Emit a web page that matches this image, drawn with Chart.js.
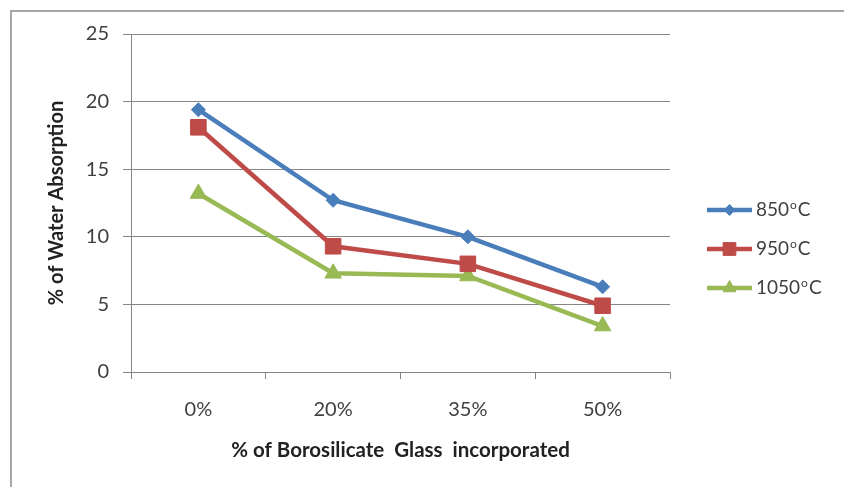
<!DOCTYPE html>
<html>
<head>
<meta charset="utf-8">
<script src="https://cdn.jsdelivr.net/npm/chart.js@4/dist/chart.umd.min.js"></script>
<style>
  html, body { margin: 0; padding: 0; background: #ffffff; }
  #wrap { width: 844px; height: 487px; position: relative; }
</style>
</head>
<body>
<div id="wrap"><canvas id="c" width="844" height="487"></canvas></div>
<script>
// Water absorption (%) by borosilicate glass content, per firing temperature
const categories = ['0%', '20%', '35%', '50%'];
const seriesNames = ['850°C', '950°C', '1050°C'];
const absorption850 = [19.4, 12.7, 10.0, 6.3];
const absorption950 = [18.1, 9.3, 8.0, 4.9];
const absorption1050 = [13.2, 7.3, 7.1, 3.4];
const yTicks = [0, 5, 10, 15, 20, 25];

const FONT = 'Lato, "Open Sans", sans-serif';
const TEXT = '#404040';
const GRID = '#868686';

// Frame around the whole chart (open to the right and bottom)
const framePlugin = {
  id: 'frame',
  beforeDraw(chart) {
    const ctx = chart.ctx;
    ctx.save();
    ctx.fillStyle = '#ffffff';
    ctx.fillRect(0, 0, chart.width, chart.height);
    ctx.strokeStyle = '#a6a6a6';
    ctx.lineWidth = 2;
    ctx.strokeRect(11, 11, chart.width + 20, chart.height + 20);
    ctx.restore();
  }
};

// Legend to the right: line segment with marker, label with raised "o"
const legendMarkerRadius = { rectRot: 5.5, rect: 9, triangle: 7.5 };
const sideLegend = {
  id: 'sideLegend',
  afterDraw(chart) {
    const ctx = chart.ctx;
    const x0 = 707, x1 = 752, rows = [210, 249, 288];
    ctx.save();
    chart.data.datasets.forEach((ds, i) => {
      const y = rows[i];
      ctx.strokeStyle = ds.borderColor;
      ctx.lineWidth = ds.borderWidth;
      ctx.beginPath();
      ctx.moveTo(x0, y);
      ctx.lineTo(x1, y);
      ctx.stroke();
      ctx.fillStyle = ds.pointBackgroundColor;
      ctx.strokeStyle = ds.pointBorderColor;
      ctx.lineWidth = 1;
      Chart.helpers.drawPoint(ctx, {
        pointStyle: ds.pointStyle,
        radius: legendMarkerRadius[ds.pointStyle],
        borderWidth: 1
      }, (x0 + x1) / 2, y);
      const parts = ds.label.split('°');
      ctx.fillStyle = TEXT;
      ctx.textBaseline = 'middle';
      ctx.textAlign = 'left';
      let tx = x1 + 4;
      ctx.font = '19px ' + FONT;
      ctx.fillText(parts[0], tx, y);
      tx += ctx.measureText(parts[0]).width + 1;
      ctx.font = '12px ' + FONT;
      ctx.fillText('o', tx, y - 5);
      tx += ctx.measureText('o').width + 1;
      ctx.font = '19px ' + FONT;
      ctx.fillText(parts[1] || '', tx, y);
    });
    ctx.restore();
  }
};

function series(label, data, color, style, radius) {
  return {
    label: label,
    data: data,
    borderColor: color,
    borderWidth: 4.5,
    pointStyle: style,
    pointRadius: radius,
    pointHoverRadius: radius,
    pointBackgroundColor: color,
    pointBorderColor: color,
    pointBorderWidth: 1,
    tension: 0,
    fill: false
  };
}

new Chart(document.getElementById('c'), {
  type: 'line',
  data: {
    labels: categories,
    datasets: [
      series(seriesNames[0], absorption850, '#4A7EBB', 'rectRot', 7),
      series(seriesNames[1], absorption950, '#BE4B48', 'rect', 11),
      series(seriesNames[2], absorption1050, '#98B954', 'triangle', 9.5)
    ]
  },
  options: {
    responsive: false,
    animation: false,
    layout: { padding: { top: 34, right: 174, bottom: 0, left: 0 } },
    plugins: {
      legend: { display: false },
      tooltip: { enabled: false }
    },
    scales: {
      x: {
        type: 'category',
        offset: true,
        grid: {
          offset: true,
          drawOnChartArea: false,
          drawTicks: true,
          tickLength: 7,
          color: GRID
        },
        border: { display: true, color: GRID, width: 1 },
        ticks: { color: TEXT, font: { family: FONT, size: 20 }, padding: 19, maxRotation: 0 },
        title: {
          display: true,
          text: '% of Borosilicate  Glass  incorporated',
          color: '#222',
          font: { family: FONT, size: 20.5, weight: 'bold' },
          padding: { top: 0, bottom: 24 }
        },
        afterFit(scale) { scale.height = 487 - 372; }
      },
      y: {
        min: 0,
        max: 25,
        afterBuildTicks(scale) { scale.ticks = yTicks.map(v => ({ value: v })); },
        grid: {
          drawTicks: true,
          tickLength: 8,
          color: GRID,
          lineWidth: 1
        },
        border: { display: true, color: GRID, width: 1 },
        ticks: { color: TEXT, font: { family: FONT, size: 20 }, padding: 14 },
        title: {
          display: true,
          text: '% of Water Absorption',
          color: '#222',
          font: { family: FONT, size: 20, weight: 'bold' },
          padding: { top: 45, bottom: 0 }
        },
        afterFit(scale) { scale.width = 131; }
      }
    }
  },
  plugins: [framePlugin, sideLegend]
});
</script>
</body>
</html>
